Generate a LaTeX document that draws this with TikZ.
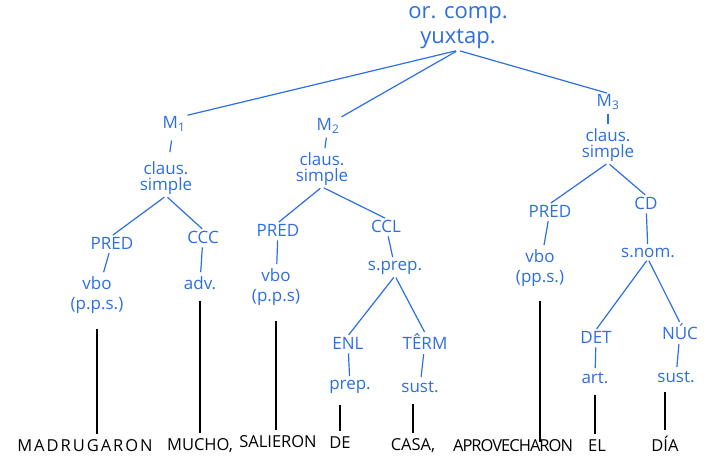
\documentclass[tikz,border=0pt]{standalone}
\usepackage{fontspec}
\setmainfont{Open Sans}
\usetikzlibrary{arrows.meta}
\definecolor{pen}{RGB}{45,110,225}

\begin{document}
\begin{tikzpicture}[x=1pt,y=-1pt,
	lab/.style={text=pen, font=\fontsize{17}{16.5}\selectfont, align=center, inner sep=1pt},
	word/.style={font=\fontsize{16.5}{16}\selectfont, inner sep=1pt},
	br/.style={pen, line width=1.2pt, shorten <=2pt, shorten >=1pt},
	tick/.style={pen, line width=1.2pt, shorten <=3pt, shorten >=3pt},
	term/.style={black, line width=1.4pt, shorten >=5pt}]
	\useasboundingbox (0,0) rectangle (718,461);
	\node (or) [lab, font=\fontsize{22}{25}\selectfont] at (458,28) {or. comp.\\yuxtap.};
	\node (m1) [lab] at (174,124) {M\textsubscript{1}};
	\node (cl1) [lab] at (166,178) {claus.\\simple};
	\node (pred1) [lab] at (112,243) {PRED};
	\node (v1) [lab] at (97,295) {vbo\\[4pt](p.p.s.)};
	\node (ccc) [lab] at (203,237) {CCC};
	\node (adv) [lab] at (200,283) {adv.};
	\node (m2) [lab] at (328,126) {M\textsubscript{2}};
	\node (cl2) [lab] at (322,169) {claus.\\simple};
	\node (pred2) [lab] at (278,230) {PRED};
	\node (v2) [lab] at (276,287) {vbo\\[4pt](p.p.s)};
	\node (ccl) [lab] at (386,226) {CCL};
	\node (sprep) [lab] at (395,268) {s.prep.};
	\node (enl) [lab] at (348,343) {ENL};
	\node (prep) [lab] at (350,387) {prep.};
	\node (trm) [lab] at (425,342) {TÊRM};
	\node (sust1) [lab] at (420,387) {sust.};
	\node (m3) [lab] at (608,102) {M\textsubscript{3}};
	\node (cl3) [lab] at (608,145) {claus.\\simple};
	\node (pred3) [lab] at (550,211) {PRED};
	\node (v3) [lab] at (540,268) {vbo\\[4pt](pp.s.)};
	\node (cd) [lab] at (646,203) {CD};
	\node (snom) [lab] at (648,253) {s.nom.};
	\node (det) [lab] at (596,337) {DET};
	\node (art) [lab] at (595,378) {art.};
	\node (nuc) [lab] at (680,332) {NÚC};
	\node (sust2) [lab] at (676,377) {sust.};
	% the sentence
	\node (madr) [word] at (85,446) {\addfontfeature{LetterSpace=12}MADRUGARON};
	\node (mucho) [word] at (200,446) {MUCHO,};
	\node (sal) [word] at (278,442) {SALIERON};
	\node (de) [word] at (340,443) {DE};
	\node (casa) [word] at (413,446) {CASA,};
	\node (apro) [word] at (513,446) {\addfontfeature{LetterSpace=-6}APROVECHARON};
	\node (el) [word] at (597,446) {EL};
	\node (dia) [word] at (665,444) {DÍA};
	% top level
	\draw[br] (or.south) -- (m1.north east);
	\draw[br] (or.south) -- (m2.north east);
	\draw[br] (or.south) -- (m3.north);
	\draw[tick, shorten <=8pt, shorten >=8pt] (m1) -- (cl1);
	\draw[tick] (m2) -- (cl2);
	\draw[tick] (m3) -- (cl3);
	% M1
	\draw[br] (cl1.south) -- (pred1.north);
	\draw[br] (cl1.south) -- (ccc.north);
	\draw[tick] (pred1) -- (v1);
	\draw[tick] (ccc) -- (adv);
	% M2
	\draw[br] (cl2.south) -- (pred2.north);
	\draw[br] (cl2.south) -- (ccl.north);
	\draw[tick] (pred2) -- (v2);
	\draw[tick] (ccl) -- (sprep);
	\draw[br] (sprep.south) -- (enl.north);
	\draw[br] (sprep.south) -- (trm.north);
	\draw[tick] (enl) -- (prep);
	\draw[tick] (trm) -- (sust1);
	% M3
	\draw[br] (cl3.south) -- (pred3.north);
	\draw[br] (cl3.south) -- (cd.north);
	\draw[tick] (pred3) -- (v3);
	\draw[tick] (cd) -- (snom);
	\draw[br] (snom.south) -- (det.north);
	\draw[br] (snom.south) -- (nuc.north);
	\draw[tick] (det) -- (art);
	\draw[tick] (nuc) -- (sust2);
	% down to the words
	\draw[term, shorten <=14pt] (v1.south) -- (v1.south |- madr.north);
	\draw[term, shorten <=10pt] (adv.south) -- (adv.south |- mucho.north);
	\draw[term, shorten <=14pt] (v2.south) -- (v2.south |- sal.north);
	\draw[term, shorten <=10pt] (prep.south -| de) -- (de.north);
	\draw[term, shorten <=10pt] (sust1.south -| casa) -- (casa.north);
	\draw[term, shorten <=13pt, shorten >=-3pt] (v3.south) -- (v3.south |- apro.north);
	\draw[term, shorten <=10pt] (art.south) -- (art.south |- el.north);
	\draw[term, shorten <=8pt] (sust2.south -| dia) -- (dia.north);
\end{tikzpicture}
\end{document}
